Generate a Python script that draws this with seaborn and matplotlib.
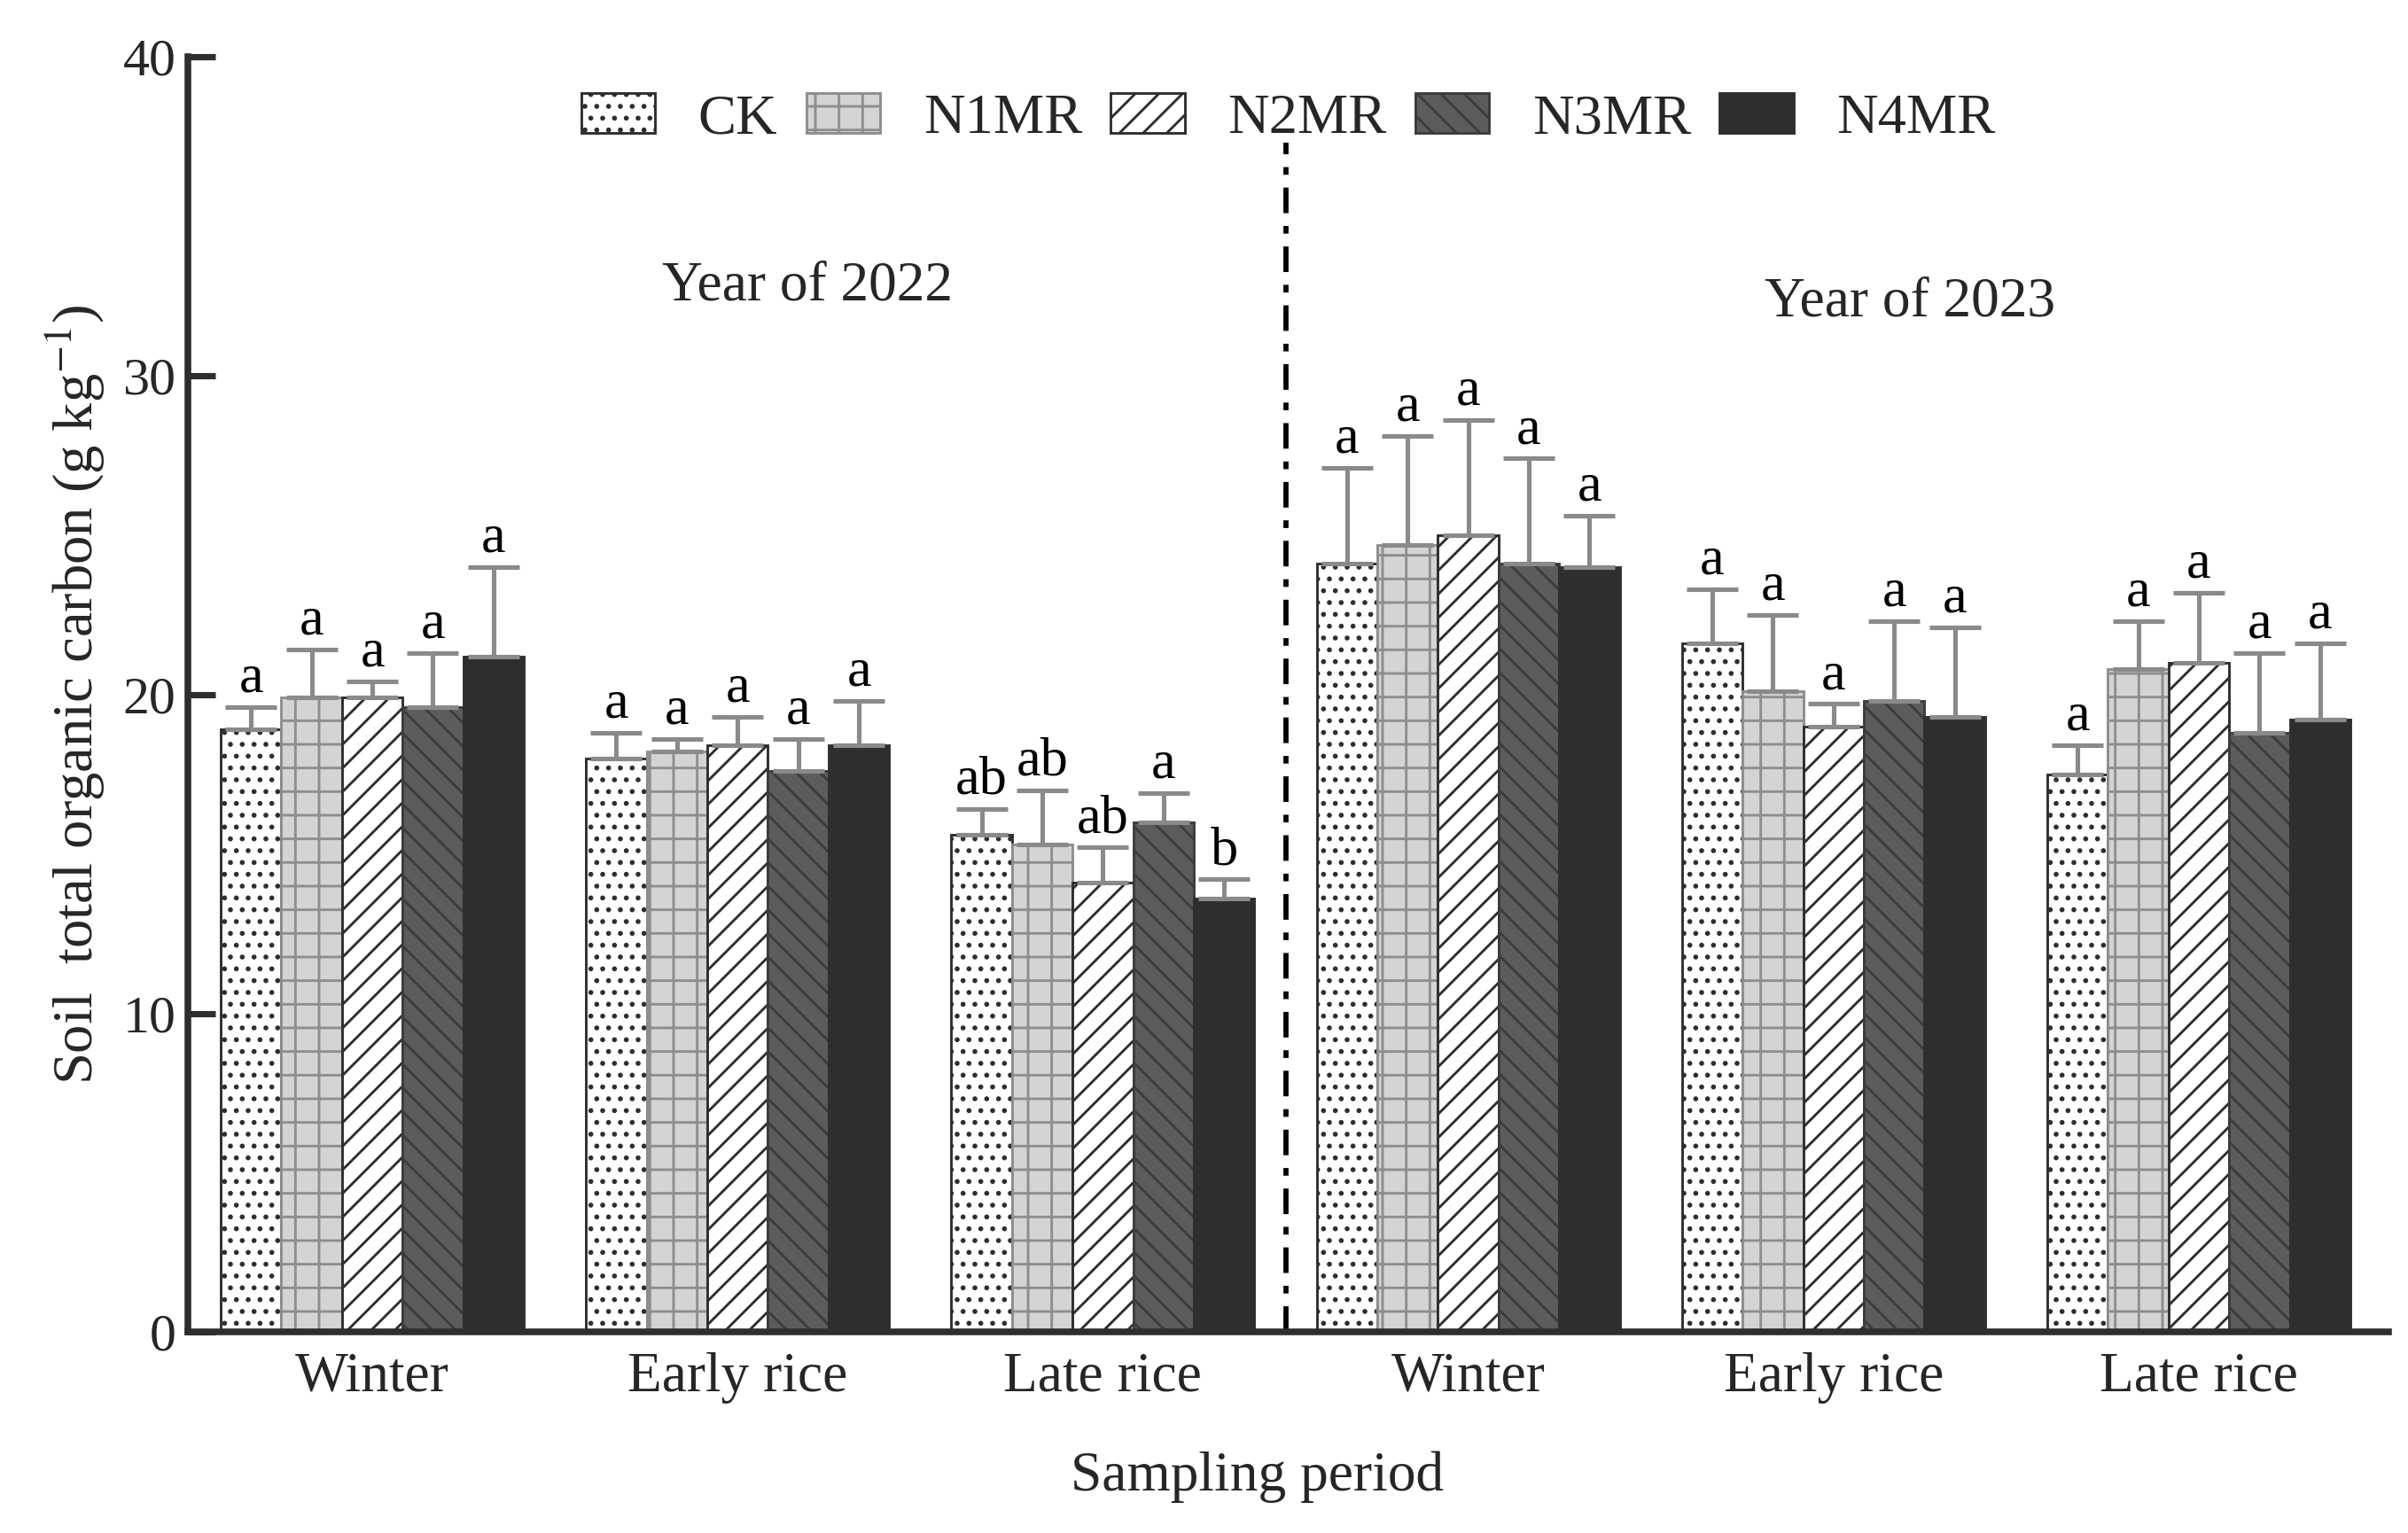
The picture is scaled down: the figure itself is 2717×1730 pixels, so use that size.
"""
Soil total organic carbon by sampling period and treatment (2022-2023),
grouped hatched bars with one-sided SD bars and significance letters.
"""

import numpy as np
import pandas as pd
import matplotlib
matplotlib.use("Agg")
import matplotlib.pyplot as plt
from matplotlib.patches import Patch
import seaborn as sns

# ── data ─────────────────────────────────────────────────────────────
TREATMENTS = ["CK", "N1MR", "N2MR", "N3MR", "N4MR"]
SLOTS = ["W2022", "E2022", "L2022", "W2023", "E2023", "L2023"]
PERIOD_LABELS = ["Winter", "Early rice", "Late rice",
                 "Winter", "Early rice", "Late rice"]
YEAR_LABELS = ["Year of 2022", "Year of 2023"]

ck_mean = [18.9, 18.0, 15.6, 24.1, 21.6, 17.5]
ck_sd   = [0.7, 0.8, 0.8, 3.0, 1.7, 0.9]
n1_mean = [19.9, 18.2, 15.3, 24.7, 20.1, 20.8]
n1_sd   = [1.5, 0.4, 1.7, 3.4, 2.4, 1.5]
n2_mean = [19.9, 18.4, 14.1, 25.0, 19.0, 21.0]
n2_sd   = [0.5, 0.9, 1.1, 3.6, 0.7, 2.2]
n3_mean = [19.6, 17.6, 16.0, 24.1, 19.8, 18.8]
n3_sd   = [1.7, 1.0, 0.9, 3.3, 2.5, 2.5]
n4_mean = [21.2, 18.4, 13.6, 24.0, 19.3, 19.2]
n4_sd   = [2.8, 1.4, 0.6, 1.6, 2.8, 2.4]

ck_letters = ["a", "a", "ab", "a", "a", "a"]
n1_letters = ["a", "a", "ab", "a", "a", "a"]
n2_letters = ["a", "a", "ab", "a", "a", "a"]
n3_letters = ["a", "a", "a", "a", "a", "a"]
n4_letters = ["a", "a", "b", "a", "a", "a"]

means = [ck_mean, n1_mean, n2_mean, n3_mean, n4_mean]
sds = [ck_sd, n1_sd, n2_sd, n3_sd, n4_sd]
letters = [ck_letters, n1_letters, n2_letters, n3_letters, n4_letters]

df = pd.DataFrame({
    "slot": np.tile(SLOTS, len(TREATMENTS)),
    "treatment": np.repeat(TREATMENTS, len(SLOTS)),
    "toc": np.concatenate(means),
})

# ── styling ──────────────────────────────────────────────────────────
FILLS  = ["#ffffff", "#d4d4d4", "#ffffff", "#5c5c5c", "#2e2e2e"]
EDGES  = ["#2e2e2e", "#8e8e8e", "#2e2e2e", "#3c3c3c", "#2e2e2e"]
HATCHES = ["..", "+", "//", "\\\\", ""]
ERR_COLOR = "#8a8a8a"
AX_COLOR = "#2e2e2e"

sns.set_style("ticks")
plt.rcParams["font.family"] = ["Liberation Serif", "DejaVu Serif"]
plt.rcParams["mathtext.fontset"] = "stix"
plt.rcParams["hatch.linewidth"] = 1.3

DPI = 160
fig = plt.figure(figsize=(2717 / DPI, 1730 / DPI), dpi=DPI)
ax = fig.add_axes([0.078, 0.131, 0.914, 0.832])

sns.barplot(data=df, x="slot", y="toc", hue="treatment",
            order=SLOTS, hue_order=TREATMENTS, width=0.83,
            errorbar=None, palette=FILLS, saturation=1,
            legend=False, ax=ax)

bar_containers = list(ax.containers)
for i, cont in enumerate(bar_containers):
    for j, bar in enumerate(cont.patches):
        bar.set_facecolor(FILLS[i])
        bar.set_edgecolor(EDGES[i])
        bar.set_hatch(HATCHES[i])
        bar.set_linewidth(1.3)
        xc = bar.get_x() + bar.get_width() / 2
        top = means[i][j]
        err = sds[i][j]
        ax.errorbar(xc, top, yerr=[[0], [err]], fmt="none",
                    ecolor=ERR_COLOR, elinewidth=2.3, capsize=13,
                    capthick=2.3, zorder=1)
        ax.text(xc, top + err + 0.12, letters[i][j], ha="center",
                va="bottom", fontsize=28, color="black")

# divider between the two years
ax.plot([2.5, 2.5], [0, 37.3], color="black", lw=2.6,
        dashes=(5, 2.5, 1.5, 2.5), zorder=0)

ax.text(1.19, 32.8, YEAR_LABELS[0], ha="center", va="center", fontsize=28.5)
ax.text(4.21, 32.3, YEAR_LABELS[1], ha="center", va="center", fontsize=28.5)

# axes
ax.set_xlim(-0.505, 5.52)
ax.set_ylim(0, 40)
ax.set_yticks([0, 10, 20, 30, 40])
ax.set_xticks(range(len(SLOTS)))
ax.set_xticklabels(PERIOD_LABELS)
ax.tick_params(axis="y", direction="in", length=14, width=3.2,
               color=AX_COLOR, labelsize=27, pad=6)
ax.tick_params(axis="x", direction="in", length=11, width=2.4,
               color=AX_COLOR, labelsize=28.5, pad=10)
sns.despine(ax=ax)
for side in ["left", "bottom"]:
    ax.spines[side].set_linewidth(3.4)
    ax.spines[side].set_color(AX_COLOR)

ax.set_xlabel("Sampling period", fontsize=28.5)
ax.xaxis.set_label_coords(0.486, -0.093)
ax.set_ylabel("Soil  total organic carbon (g kg$^{-1}$)", fontsize=29,
              labelpad=8)

handles = [Patch(facecolor=FILLS[i], edgecolor=EDGES[i], hatch=HATCHES[i],
                 linewidth=1.3, label=t) for i, t in enumerate(TREATMENTS)]
ax.legend(handles=handles, ncol=5, loc="center", frameon=False,
          bbox_to_anchor=(0.5, 0.951), fontsize=29, handlelength=1.3,
          handleheight=0.7, handletextpad=0.75, columnspacing=0.5)

fig.savefig("out.png", dpi=DPI)
